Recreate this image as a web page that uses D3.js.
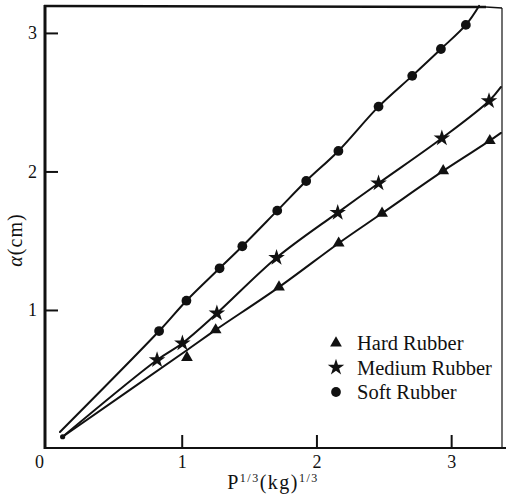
<!DOCTYPE html>
<html>
<head>
<meta charset="utf-8">
<script src="https://cdn.jsdelivr.net/npm/d3@7"></script>
<style>
  body { margin: 0; background: #fff; }
  svg { display: block; }
  svg text { font-family: 'Liberation Serif', 'DejaVu Serif', serif !important; fill: #111; }
</style>
</head>
<body>
<svg width="506" height="504"></svg>
<script>
var softX = [0.832, 1.035, 1.281, 1.450, 1.709, 1.924, 2.163, 2.461, 2.711, 2.924, 3.109];
var softY = [0.848, 1.067, 1.301, 1.460, 1.717, 1.931, 2.148, 2.468, 2.690, 2.884, 3.058];
var mediumX = [0.817, 1.005, 1.261, 1.704, 2.158, 2.461, 2.931, 3.281];
var mediumY = [0.639, 0.760, 0.976, 1.377, 1.703, 1.915, 2.240, 2.509];
var hardX = [1.039, 1.252, 1.722, 2.165, 2.487, 2.941, 3.287];
var hardY = [0.656, 0.856, 1.165, 1.482, 1.698, 2.004, 2.222];

// the hand drawn fitted curves
var softLineX = [0.096, 0.832, 1.035, 1.281, 1.450, 1.709, 1.924, 2.163, 2.461, 2.711, 2.924, 3.109, 3.207];
var softLineY = [0.119, 0.848, 1.067, 1.301, 1.460, 1.717, 1.931, 2.148, 2.468, 2.690, 2.884, 3.058, 3.195];
var mediumLineX = [0.116, 0.817, 1.005, 1.261, 1.704, 2.158, 2.461, 2.931, 3.281, 3.37];
var mediumLineY = [0.085, 0.639, 0.760, 0.976, 1.377, 1.703, 1.915, 2.240, 2.509, 2.61];
var hardLineX = [0.116, 1.03, 1.252, 1.722, 2.165, 2.487, 2.941, 3.287, 3.37];
var hardLineY = [0.085, 0.704, 0.856, 1.165, 1.482, 1.698, 2.004, 2.222, 2.278];

var xTicks = [0, 1, 2, 3];
var yTicks = [1, 2, 3];
var legendLabels = ["Hard Rubber", "Medium Rubber", "Soft Rubber"];

var svg = d3.select("svg");

var x = d3.scaleLinear().domain([0, 3.37]).range([47, 501]);
var y = d3.scaleLinear().domain([0, 3.19]).range([448.5, 6.6]);

// frame
svg.append("line").attr("x1", 45).attr("x2", 506).attr("y1", 448).attr("y2", 448)
  .attr("stroke", "#111").attr("stroke-width", 2.2);
svg.append("line").attr("x1", 45).attr("x2", 45).attr("y1", 5).attr("y2", 449)
  .attr("stroke", "#111").attr("stroke-width", 3);
svg.append("line").attr("x1", 44).attr("x2", 486).attr("y1", 6).attr("y2", 7)
  .attr("stroke", "#111").attr("stroke-width", 2.6);
svg.append("line").attr("x1", 486).attr("x2", 502).attr("y1", 7).attr("y2", 8)
  .attr("stroke", "#111").attr("stroke-width", 1.3);
svg.append("line").attr("x1", 502).attr("x2", 502).attr("y1", 8).attr("y2", 448)
  .attr("stroke", "#111").attr("stroke-width", 1.2);

// axes
var xAxis = svg.append("g")
  .attr("transform", "translate(0,448)")
  .call(d3.axisBottom(x).tickValues(xTicks).tickSize(-13).tickPadding(7).tickFormat(d3.format("d")));
var yAxis = svg.append("g")
  .attr("transform", "translate(45,0)")
  .call(d3.axisLeft(y).tickValues(yTicks).tickSize(-13).tickPadding(8).tickFormat(d3.format("d")));

[xAxis, yAxis].forEach(function (a) {
  a.attr("font-family", null);
  a.select(".domain").remove();
  a.selectAll(".tick line").attr("stroke", "#111").attr("stroke-width", 2);
  a.selectAll(".tick text").attr("font-size", 18).attr("fill", "#111");
});
xAxis.selectAll(".tick").filter(function (d) { return d === 0; })
  .each(function () {
    d3.select(this).select("line").remove();
    d3.select(this).select("text").attr("x", -8);
  });

// axis titles
var xt = svg.append("text").attr("x", 273).attr("y", 489).attr("text-anchor", "middle")
  .attr("font-size", 20).attr("letter-spacing", 1.5);
xt.append("tspan").text("P");
xt.append("tspan").attr("font-size", 12).attr("dy", -7).text("1/3");
xt.append("tspan").attr("dy", 7).text("(kg)");
xt.append("tspan").attr("font-size", 12).attr("dy", -7).text("1/3");

var yt = svg.append("text").attr("transform", "translate(22,240) rotate(-90)")
  .attr("text-anchor", "middle").attr("font-size", 20).attr("letter-spacing", 1);
yt.append("tspan").attr("font-style", "italic").text("α");
yt.append("tspan").text("(cm)");

// curves
var line = d3.line()
  .x(function (d) { return x(d[0]); })
  .y(function (d) { return y(d[1]); })
  .curve(d3.curveCatmullRom.alpha(0.5));

var curves = [[softLineX, softLineY], [mediumLineX, mediumLineY], [hardLineX, hardLineY]];
svg.append("g").selectAll("path")
  .data(curves)
  .enter().append("path")
    .attr("d", function (c) { return line(d3.zip(c[0], c[1])); })
    .attr("fill", "none")
    .attr("stroke", "#111")
    .attr("stroke-width", 2)
    .attr("stroke-linecap", "round");

// start blob
svg.append("circle").attr("cx", x(0.116)).attr("cy", y(0.085)).attr("r", 2.6).attr("fill", "#111");

// markers
var markers = [
  { xs: hardX, ys: hardY, sym: d3.symbolTriangle, size: 60 },
  { xs: mediumX, ys: mediumY, sym: d3.symbolStar, size: 85 },
  { xs: softX, ys: softY, sym: d3.symbolCircle, size: 75 }
];

markers.forEach(function (m) {
  svg.append("g").selectAll("path")
    .data(d3.zip(m.xs, m.ys))
    .enter().append("path")
      .attr("transform", function (d) { return "translate(" + x(d[0]) + "," + y(d[1]) + ")"; })
      .attr("d", d3.symbol().type(m.sym).size(m.size))
      .attr("fill", "#111");
});

// legend
var legend = svg.append("g").attr("transform", "translate(336,343)");
var rows = legend.selectAll("g")
  .data(legendLabels)
  .enter().append("g")
    .attr("transform", function (d, i) { return "translate(0," + (i * 24.5) + ")"; });
rows.append("path")
  .attr("d", function (d, i) { return d3.symbol().type(markers[i].sym).size(markers[i].size)(); })
  .attr("fill", "#111");
rows.append("text")
  .attr("x", 21)
  .attr("y", 7)
  .attr("font-size", 20.5)
  .text(function (d) { return d; });
</script>
</body>
</html>
